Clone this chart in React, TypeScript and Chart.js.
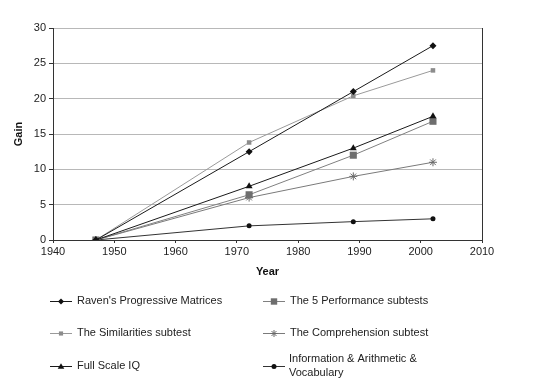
import React, { useEffect, useRef } from "react";
import { Chart, registerables } from "chart.js";

Chart.register(...registerables);

const years = [1947, 1972, 1989, 2002];
const ravens = [0, 12.5, 21, 27.5];
const similarities = [0, 13.8, 20.4, 24];
const fullScale = [0, 7.6, 13, 17.5];
const performance5 = [0, 6.4, 12, 16.8];
const comprehension = [0, 6, 9, 11];
const infoArithVocab = [0, 2, 2.6, 3];

const seriesNames = [
  "Raven's Progressive Matrices",
  "The Similarities subtest",
  "Full Scale IQ",
  "The 5 Performance subtests",
  "The Comprehension subtest",
  "Information & Arithmetic &\nVocabulary",
];

const FONT = "'Liberation Sans', Arial, Helvetica, sans-serif";

function pts(vals: number[]) {
  return years.map((x, i) => ({ x, y: vals[i] }));
}

export default function App() {
  const ref = useRef<HTMLCanvasElement>(null);
  useEffect(() => {
    if (!ref.current) return;
    const styles = [
      { data: ravens, line: "#1a1a1a", fill: "#111", style: "rectRot", r: 3.5, lr: 3 },
      { data: similarities, line: "#9a9a9a", fill: "#8c8c8c", style: "rect", r: 3.2, lr: 2.6 },
      { data: fullScale, line: "#1a1a1a", fill: "#111", style: "triangle", r: 4, lr: 3.3 },
      { data: performance5, line: "#808080", fill: "#6e6e6e", style: "rect", r: 5, lr: 4 },
      { data: comprehension, line: "#7a7a7a", fill: "#6a6a6a", style: "star", r: 4, lr: 3.5 },
      { data: infoArithVocab, line: "#333", fill: "#111", style: "circle", r: 2.5, lr: 2.5 },
    ];
    const datasets = styles.map((s, i) => ({
      label: seriesNames[i],
      data: pts(s.data),
      borderColor: s.line,
      backgroundColor: s.fill,
      borderWidth: 1,
      pointStyle: s.style as any,
      pointRadius: s.r,
      pointBackgroundColor: s.fill,
      pointBorderColor: s.fill,
      pointBorderWidth: s.style === "star" ? 1 : 0,
      tension: 0,
    }));

    const legendPlugin = {
      id: "customLegend",
      afterDraw(chart: any) {
        const ctx = chart.ctx;
        const area = chart.chartArea;
        ctx.save();
        ctx.strokeStyle = "#333";
        ctx.lineWidth = 1;
        ctx.beginPath();
        ctx.moveTo(Math.round(area.right) + 0.5, area.top);
        ctx.lineTo(Math.round(area.right) + 0.5, area.bottom);
        ctx.stroke();

        const cols = [50, 263];
        const rows = [301, 333, 366];
        ctx.font = `11px ${FONT}`;
        ctx.textBaseline = "middle";
        styles.forEach((s, i) => {
          const col = i < 3 ? 0 : 1;
          const row = i % 3;
          const x0 = cols[col];
          const y = rows[row];
          ctx.strokeStyle = s.line;
          ctx.lineWidth = 1;
          ctx.beginPath();
          ctx.moveTo(x0, y + 0.5);
          ctx.lineTo(x0 + 22, y + 0.5);
          ctx.stroke();
          ctx.fillStyle = s.fill;
          ctx.strokeStyle = s.fill;
          drawMarker(ctx, s.style, s.lr, x0 + 11, y + 0.5);
          ctx.fillStyle = "#222";
          const lines = seriesNames[i].split("\n");
          if (lines.length === 1) {
            ctx.fillText(lines[0], x0 + 27, y);
          } else {
            ctx.fillText(lines[0], x0 + 26, y - 7);
            ctx.fillText(lines[1], x0 + 26, y + 7);
          }
        });
        ctx.restore();
      },
    };

    const chart = new Chart(ref.current, {
      type: "line",
      data: { datasets },
      plugins: [legendPlugin],
      options: {
        animation: false,
        responsive: false,
        maintainAspectRatio: false,
        layout: { padding: { top: 28, right: 77, bottom: 101, left: 8 } },
        plugins: { legend: { display: false }, tooltip: { enabled: false } },
        scales: {
          x: {
            type: "linear",
            min: 1940,
            max: 2010,
            ticks: {
              stepSize: 10,
              color: "#222",
              font: { family: FONT, size: 11 },
              padding: 2,
              maxRotation: 0,
              callback: (v: any) => String(v),
            },
            grid: { drawOnChartArea: false, tickLength: 3, color: "#333" },
            border: { color: "#333", width: 1 },
            title: { display: true, text: "Year", color: "#111", font: { family: FONT, size: 11, weight: "bold" }, padding: { top: 4, bottom: 4 } },
            afterFit(scale: any) {
              scale.height = 43;
            },
          },
          y: {
            min: 0,
            max: 30,
            ticks: { stepSize: 5, color: "#222", font: { family: FONT, size: 11 }, padding: 3 },
            grid: { color: "#b8b8b8", tickColor: "#333", tickLength: 4 },
            border: { color: "#333", width: 1 },
            title: { display: true, text: "Gain", color: "#111", font: { family: FONT, size: 11, weight: "bold" }, padding: { top: 4, bottom: 4 } },
            afterFit(scale: any) {
              scale.width = 45;
            },
          },
        },
      },
    } as any);
    return () => chart.destroy();
  }, []);

  return (
    <div style={{ position: "absolute", left: 0, top: 0, width: 559, height: 384, background: "#fff" }}>
      <canvas ref={ref} width={559} height={384} style={{ width: 559, height: 384, display: "block" }} />
    </div>
  );
}

function drawMarker(ctx: CanvasRenderingContext2D, style: string, r: number, x: number, y: number) {
  ctx.beginPath();
  if (style === "rectRot") {
    ctx.moveTo(x, y - r);
    ctx.lineTo(x + r, y);
    ctx.lineTo(x, y + r);
    ctx.lineTo(x - r, y);
    ctx.closePath();
    ctx.fill();
  } else if (style === "rect") {
    ctx.rect(x - r * 0.8, y - r * 0.8, r * 1.6, r * 1.6);
    ctx.fill();
  } else if (style === "triangle") {
    ctx.moveTo(x, y - r);
    ctx.lineTo(x + r, y + r * 0.7);
    ctx.lineTo(x - r, y + r * 0.7);
    ctx.closePath();
    ctx.fill();
  } else if (style === "circle") {
    ctx.arc(x, y, r, 0, Math.PI * 2);
    ctx.fill();
  } else if (style === "star") {
    ctx.lineWidth = 1;
    for (let k = 0; k < 4; k++) {
      const a = (k * Math.PI) / 4;
      ctx.moveTo(x - Math.cos(a) * r, y - Math.sin(a) * r);
      ctx.lineTo(x + Math.cos(a) * r, y + Math.sin(a) * r);
    }
    ctx.stroke();
  }
}
